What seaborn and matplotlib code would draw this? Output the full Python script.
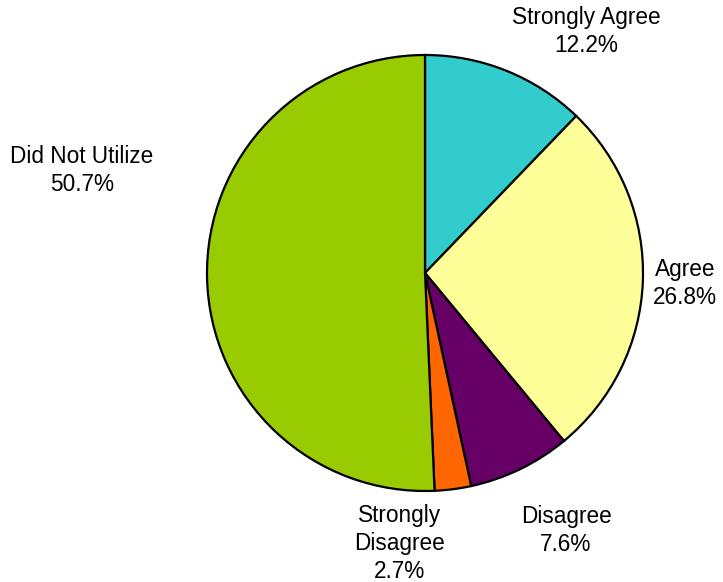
import matplotlib
matplotlib.use("Agg")
import matplotlib.pyplot as plt
import seaborn as sns

sns.set_theme(style="white")
plt.rcParams['font.family'] = ['Liberation Sans', 'DejaVu Sans']

categories = ["Strongly Agree", "Agree", "Disagree", "Strongly Disagree", "Did Not Utilize"]
label_text = ["Strongly Agree", "Agree", "Disagree", "Strongly\nDisagree", "Did Not Utilize"]
values = [12.2, 26.8, 7.6, 2.7, 50.7]
colors = ["#33CCCC", "#FFFF99", "#660066", "#FF6600", "#99CC00"]
label_pos = [(0.739, 1.106), (1.193, -0.046), (0.647, -1.179), (-0.115, -1.239), (-1.573, 0.472)]

W, H = 723, 582
fig = plt.figure(figsize=(W / 100, H / 100), dpi=100)
cx, cy, r = 425, 273, 218
ax = fig.add_axes([(cx - r) / W, (H - cy - r) / H, 2 * r / W, 2 * r / H])

wedges, texts = ax.pie(values, colors=colors, startangle=90, counterclock=False,
                       radius=1, labels=[f"{l}\n{v}%" for l, v in zip(label_text, values)],
                       wedgeprops=dict(edgecolor="black", linewidth=1.6),
                       textprops=dict(fontsize=16.3, color="black"))
for t, (x, y) in zip(texts, label_pos):
    t.set_position((x, y))
    t.set_ha("center")
    t.set_va("center")
    t.set_multialignment("center")
    t.set_linespacing(1.28)
ax.set_xlim(-1, 1)
ax.set_ylim(-1, 1)
ax.set_aspect("equal")
ax.axis("off")
fig.savefig("out.png", dpi=100)
